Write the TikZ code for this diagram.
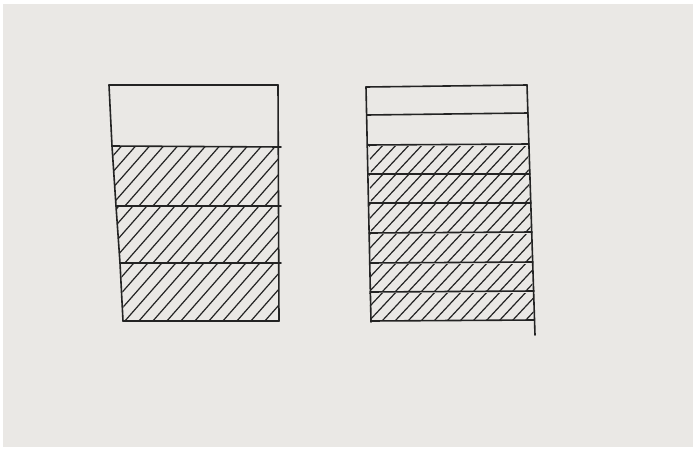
\documentclass[tikz,border=0pt]{standalone}
\usetikzlibrary{calc}
\definecolor{paper}{RGB}{234,232,229}
\definecolor{ink}{RGB}{35,35,35}
\tikzset{
  outline/.style={draw=ink, line width=1.6pt, line cap=round, line join=round},
  hatchline/.style={draw=ink, line width=1.2pt, line cap=round},
}
\begin{document}
\begin{tikzpicture}[x=1pt,y=-1pt]
  \useasboundingbox (0,0) rectangle (696,450);
  \fill[white] (0,0) rectangle (696,450);
  \fill[paper] (3,4) rectangle (693,447);

  % ---------- left box: hatching ----------
  \foreach \ya/\yb/\xa/\xb in {147/205/112/115, 207/262/116/119, 264/320/120/123}{
    \begin{scope}
      \clip (\xa+1,\ya) -- (278,\ya) -- (278,\yb) -- (\xb+1,\yb) -- cycle;
      \foreach \x in {40,54,...,300}{
        \draw[hatchline] (\x,\yb+2) -- ++(58,-66);
      }
    \end{scope}
  }
  % ---------- left box: outline ----------
  \draw[outline] (109,85) -- (278,85);
  \draw[outline] (109,85) -- (112,146) -- (116,206) -- (120,263) -- (123,321);
  \draw[outline] (278,85) -- (279,321);
  \draw[outline] (112,146) -- (281,147);
  \draw[outline] (116,206) -- (281,206);
  \draw[outline] (120,263) -- (281,263);
  \draw[outline] (123,321) -- (279,321);

  % ---------- right box: hatching ----------
  \foreach \ya/\yb in {146/173, 175/202, 204/232, 234/262, 264/291, 293/320}{
    \begin{scope}
      \clip (369,\ya) -- ({527+(\ya-85)*0.032-1},\ya) -- ({527+(\yb-85)*0.032-1},\yb) -- (371,\yb) -- cycle;
      \foreach \x in {330,343,...,540}{
        \draw[hatchline] (\x,\yb+1) -- ++(29,-31);
      }
    \end{scope}
  }
  % ---------- right box: outline ----------
  \draw[outline] (366,87) -- (527,85);
  \draw[outline] (366,87) -- (371,322);
  \draw[outline] (527,85) -- (535,335);
  \draw[outline] (367,115) -- (528,113);
  \draw[outline] (368,145) -- (529,144);
  \draw[outline] (368,174) -- (530,174);
  \draw[outline] (369,203) -- (531,203);
  \draw[outline] (369,233) -- (532,232);
  \draw[outline] (370,263) -- (533,262);
  \draw[outline] (370,292) -- (534,291);
  \draw[outline] (371,321) -- (534,320);
\end{tikzpicture}
\end{document}
